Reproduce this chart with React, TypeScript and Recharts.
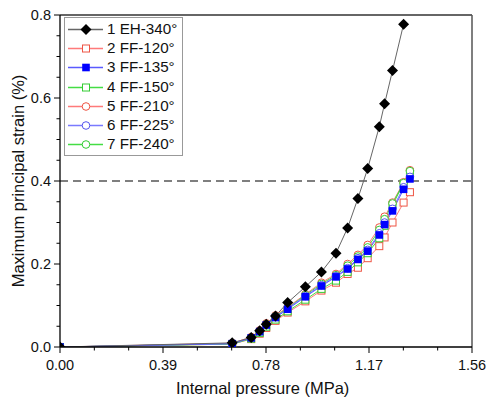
import React from 'react';
import { LineChart, Line, XAxis, YAxis, ReferenceLine } from 'recharts';

const pressure = [0, 0.652, 0.724, 0.756, 0.781, 0.816, 0.862, 0.929, 0.99, 1.045, 1.089, 1.128, 1.165, 1.209, 1.229, 1.259, 1.301, 1.325];
const eh340 = [0, 0.010, 0.023, 0.039, 0.055, 0.075, 0.107, 0.145, 0.181, 0.226, 0.287, 0.358, 0.430, 0.531, 0.586, 0.666, 0.778];
const ff120 = [0, 0.007, 0.019, 0.032, 0.046, 0.063, 0.083, 0.110, 0.136, 0.155, 0.176, 0.191, 0.214, 0.243, 0.264, 0.300, 0.348, 0.373];
const ff135 = [0, 0.008, 0.022, 0.037, 0.053, 0.071, 0.091, 0.121, 0.147, 0.169, 0.188, 0.211, 0.231, 0.270, 0.295, 0.328, 0.380, 0.405];
const ff150 = [0, 0.007, 0.020, 0.034, 0.049, 0.066, 0.086, 0.114, 0.140, 0.160, 0.181, 0.204, 0.226, 0.262, 0.292, 0.342, 0.394, 0.421];
const ff210 = [0, 0.009, 0.024, 0.040, 0.057, 0.076, 0.096, 0.127, 0.155, 0.176, 0.200, 0.222, 0.246, 0.288, 0.314, 0.348, 0.397, 0.426];
const ff225 = [0, 0.008, 0.022, 0.038, 0.054, 0.072, 0.093, 0.123, 0.149, 0.171, 0.190, 0.214, 0.234, 0.274, 0.300, 0.333, 0.385, 0.410];
const ff240 = [0, 0.008, 0.022, 0.037, 0.055, 0.074, 0.094, 0.125, 0.152, 0.173, 0.196, 0.218, 0.240, 0.282, 0.308, 0.346, 0.395, 0.424];

const xTicks = [0, 0.13, 0.26, 0.39, 0.52, 0.65, 0.78, 0.91, 1.04, 1.17, 1.3, 1.43, 1.56];
const xMajor = [0, 0.39, 0.78, 1.17, 1.56];
const yTicks = [0, 0.05, 0.1, 0.15, 0.2, 0.25, 0.3, 0.35, 0.4, 0.45, 0.5, 0.55, 0.6, 0.65, 0.7, 0.75, 0.8];
const yMajor = [0, 0.2, 0.4, 0.6, 0.8];

const seriesNames = ['1 EH-340°', '2 FF-120°', '3 FF-135°', '4 FF-150°', '5 FF-210°', '6 FF-225°', '7 FF-240°'];
const seriesValues = [eh340, ff120, ff135, ff150, ff210, ff225, ff240];
// draw order: open markers first, then blue filled squares, then black diamonds on top
const drawOrder = [1, 3, 4, 6, 5, 2, 0];

type Style = { line: string; mark: string; shape: 'diamond' | 'square' | 'fsquare' | 'circle' };
const styles: Style[] = [
  { line: '#666666', mark: '#000000', shape: 'diamond' },
  { line: '#ff7a7a', mark: '#ee5544', shape: 'square' },
  { line: '#5a5aff', mark: '#0000ff', shape: 'fsquare' },
  { line: '#44dd44', mark: '#33cc33', shape: 'square' },
  { line: '#ff7a7a', mark: '#ee5544', shape: 'circle' },
  { line: '#7a7aff', mark: '#5555ee', shape: 'circle' },
  { line: '#44dd44', mark: '#33cc33', shape: 'circle' },
];

const data = pressure.map((p, i) => {
  const row: Record<string, number | undefined> = { p };
  seriesValues.forEach((arr, k) => {
    row['s' + k] = arr[i];
  });
  return row;
});

const FONT = "Arial, 'Liberation Sans', sans-serif";

function Marker({ cx, cy, st }: { cx: number; cy: number; st: Style }) {
  if (cx == null || cy == null || isNaN(cx) || isNaN(cy)) return null;
  if (st.shape === 'diamond') {
    return <polygon points={`${cx},${cy - 5.5} ${cx + 5.5},${cy} ${cx},${cy + 5.5} ${cx - 5.5},${cy}`} fill={st.mark} />;
  }
  if (st.shape === 'fsquare') {
    return <rect x={cx - 3.8} y={cy - 3.8} width={7.6} height={7.6} fill={st.mark} />;
  }
  if (st.shape === 'square') {
    return <rect x={cx - 3.5} y={cy - 3.5} width={7} height={7} fill="#fff" stroke={st.mark} strokeWidth={1} />;
  }
  return <circle cx={cx} cy={cy} r={3.8} fill="#fff" stroke={st.mark} strokeWidth={1} />;
}

const XTick = (props: any) => {
  const { x, y, payload } = props;
  const v = payload.value as number;
  const major = xMajor.some((m) => Math.abs(m - v) < 1e-6);
  return (
    <g>
      <line x1={x} x2={x} y1={y} y2={y + (major ? 6 : 3.5)} stroke="#000" strokeWidth={1} />
      {major && (
        <text x={x} y={y + 23} textAnchor="middle" fontSize={14.5} fill="#111" fontFamily={FONT}>
          {v.toFixed(2)}
        </text>
      )}
    </g>
  );
};

const YTick = (props: any) => {
  const { x, y, payload } = props;
  const v = payload.value as number;
  const major = yMajor.some((m) => Math.abs(m - v) < 1e-6);
  return (
    <g>
      <line x1={x} x2={x - (major ? 6 : 3.5)} y1={y} y2={y} stroke="#000" strokeWidth={1} />
      {major && (
        <text x={x - 9} y={y + 5} textAnchor="end" fontSize={14.5} fill="#111" fontFamily={FONT}>
          {v.toFixed(1)}
        </text>
      )}
    </g>
  );
};

export default function App() {
  return (
    <div style={{ position: 'absolute', left: 0, top: 0, width: 488, height: 400, background: '#fff', fontFamily: FONT }}>
      <LineChart width={488} height={400} data={data} margin={{ top: 15, right: 16, left: 0, bottom: 0 }}>
        <XAxis
          dataKey="p"
          type="number"
          domain={[0, 1.56]}
          ticks={xTicks}
          interval={0}
          tick={<XTick />}
          tickLine={false}
          tickSize={0}
          tickMargin={0}
          height={53}
          axisLine={{ stroke: '#000', strokeWidth: 1.3 }}
          allowDataOverflow
        />
        <YAxis
          type="number"
          domain={[0, 0.8]}
          ticks={yTicks}
          interval={0}
          tick={<YTick />}
          tickLine={false}
          tickSize={0}
          tickMargin={0}
          width={60}
          axisLine={{ stroke: '#000', strokeWidth: 1.3 }}
          allowDataOverflow
        />
        <ReferenceLine y={0.8} stroke="#333" strokeWidth={1.5} />
        <ReferenceLine x={1.56} stroke="#555" strokeWidth={1.5} />
        <ReferenceLine y={0.4} stroke="#000" strokeWidth={1.2} strokeDasharray="8 5" />
        {drawOrder.map((k) => {
          const st = styles[k];
          return (
            <Line
              key={k}
              dataKey={'s' + k}
              stroke={st.line}
              strokeWidth={1}
              isAnimationActive={false}
              dot={(p: any) => (
                <g key={`m${k}-${p.index}`}>
                  <Marker cx={p.cx} cy={p.cy} st={st} />
                </g>
              )}
              activeDot={false}
            />
          );
        })}
      </LineChart>
      <div
        style={{
          position: 'absolute',
          left: 64,
          top: 17,
          width: 117,
          height: 137,
          border: '1px solid #999',
          background: '#fff',
        }}
      >
        {seriesNames.map((name, k) => (
          <div key={k} style={{ position: 'absolute', left: 0, top: 2 + k * 19.2, height: 19, width: 116 }}>
            <svg width={40} height={19} style={{ position: 'absolute', left: 1, top: 0 }}>
              <line x1={2} x2={37} y1={9.5} y2={9.5} stroke={styles[k].line} strokeWidth={1.3} />
              <Marker cx={20} cy={9.5} st={styles[k]} />
            </svg>
            <span style={{ position: 'absolute', left: 42, top: 0, fontSize: 15.2, lineHeight: '18px', color: '#111', whiteSpace: 'nowrap' }}>
              {name}
            </span>
          </div>
        ))}
      </div>
      <div style={{ position: 'absolute', left: 0, width: 488, top: 379, fontSize: 16.5, color: '#111' }}>
        <span style={{ position: 'absolute', left: 176, whiteSpace: 'nowrap' }}>Internal pressure (MPa)</span>
      </div>
      <div
        style={{
          position: 'absolute',
          left: 18,
          top: 181,
          transform: 'translate(-50%, -50%) rotate(-90deg)',
          fontSize: 16.5,
          color: '#111',
          whiteSpace: 'nowrap',
        }}
      >
        Maximum principal strain (%)
      </div>
    </div>
  );
}
